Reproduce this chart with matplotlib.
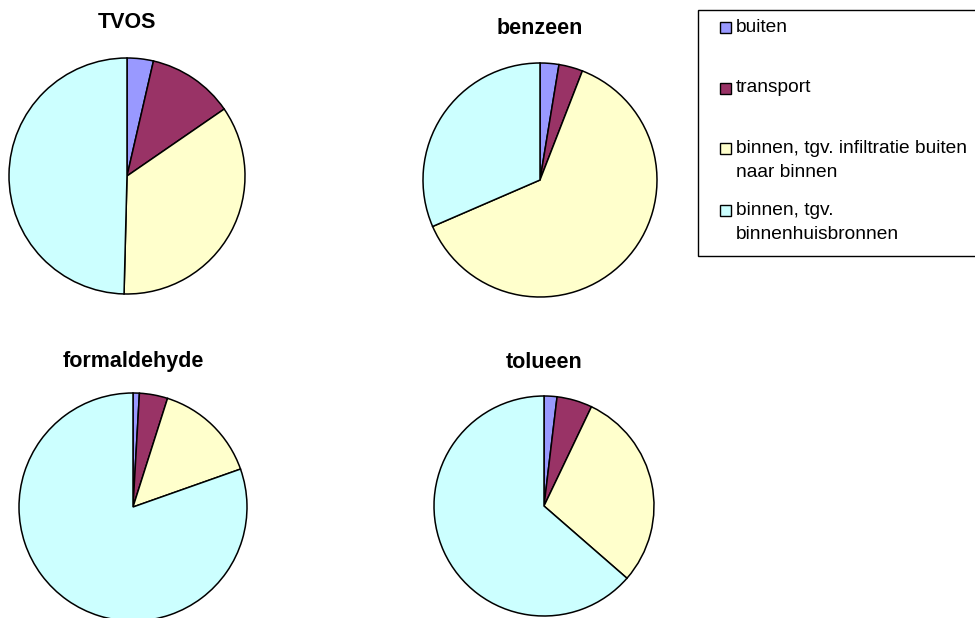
import matplotlib
matplotlib.use('Agg')
import matplotlib.pyplot as plt
from matplotlib.patches import Rectangle

plt.rcParams['font.family'] = ['Liberation Sans', 'DejaVu Sans']

categories = [
    "buiten",
    "transport",
    "binnen, tgv. infiltratie buiten\nnaar binnen",
    "binnen, tgv.\nbinnenhuisbronnen",
]
colors = ['#9999FF', '#993366', '#FFFFCC', '#CCFFFF']

titles = ["TVOS", "benzeen", "formaldehyde", "tolueen"]
tvos = [3.6, 11.8, 35.0, 49.6]
benzeen = [2.6, 3.3, 62.6, 31.5]
formaldehyde = [0.9, 4.0, 14.7, 80.4]
tolueen = [1.9, 5.2, 29.3, 63.6]
all_values = [tvos, benzeen, formaldehyde, tolueen]

W, H = 975, 618
fig = plt.figure(figsize=(W / 100, H / 100), dpi=100)

# pixel centre, radius and title y for each pie
layout = [
    (127, 176, 118, 22),
    (540, 180, 117, 28),
    (133, 507, 114, 362),
    (544, 506, 110, 362),
]

for (cx, cy, r, ty), title, vals in zip(layout, titles, all_values):
    ax = fig.add_axes([(cx - r) / W, 1 - (cy + r) / H, 2 * r / W, 2 * r / H])
    ax.pie(vals, colors=colors, startangle=90, counterclock=False,
           wedgeprops={'edgecolor': 'black', 'linewidth': 1.1})
    ax.set_xlim(-1, 1)
    ax.set_ylim(-1, 1)
    ax.set_aspect('auto')
    ax.axis('off')
    fig.text(cx / W, 1 - ty / H, title, ha='center', va='center',
             fontsize=15.5, fontweight='bold')

# legend box
fig.patches.append(Rectangle((698 / W, 1 - 256 / H), 290 / W, 246 / H,
                             transform=fig.transFigure, facecolor='white',
                             edgecolor='black', linewidth=1.0, zorder=0))
entry_y = [27, 88, 160.5, 222.5]
for label, col, y in zip(categories, colors, entry_y):
    first_line_y = y - 12.5 if '\n' in label else y
    fig.patches.append(Rectangle((720 / W, 1 - (first_line_y + 5.5) / H), 11 / W, 11 / H,
                                 transform=fig.transFigure, facecolor=col,
                                 edgecolor='black', linewidth=1.0))
    fig.text(736 / W, 1 - y / H, label, ha='left', va='center',
             fontsize=13.8, linespacing=1.5)

plt.savefig('out.png', dpi=100)
